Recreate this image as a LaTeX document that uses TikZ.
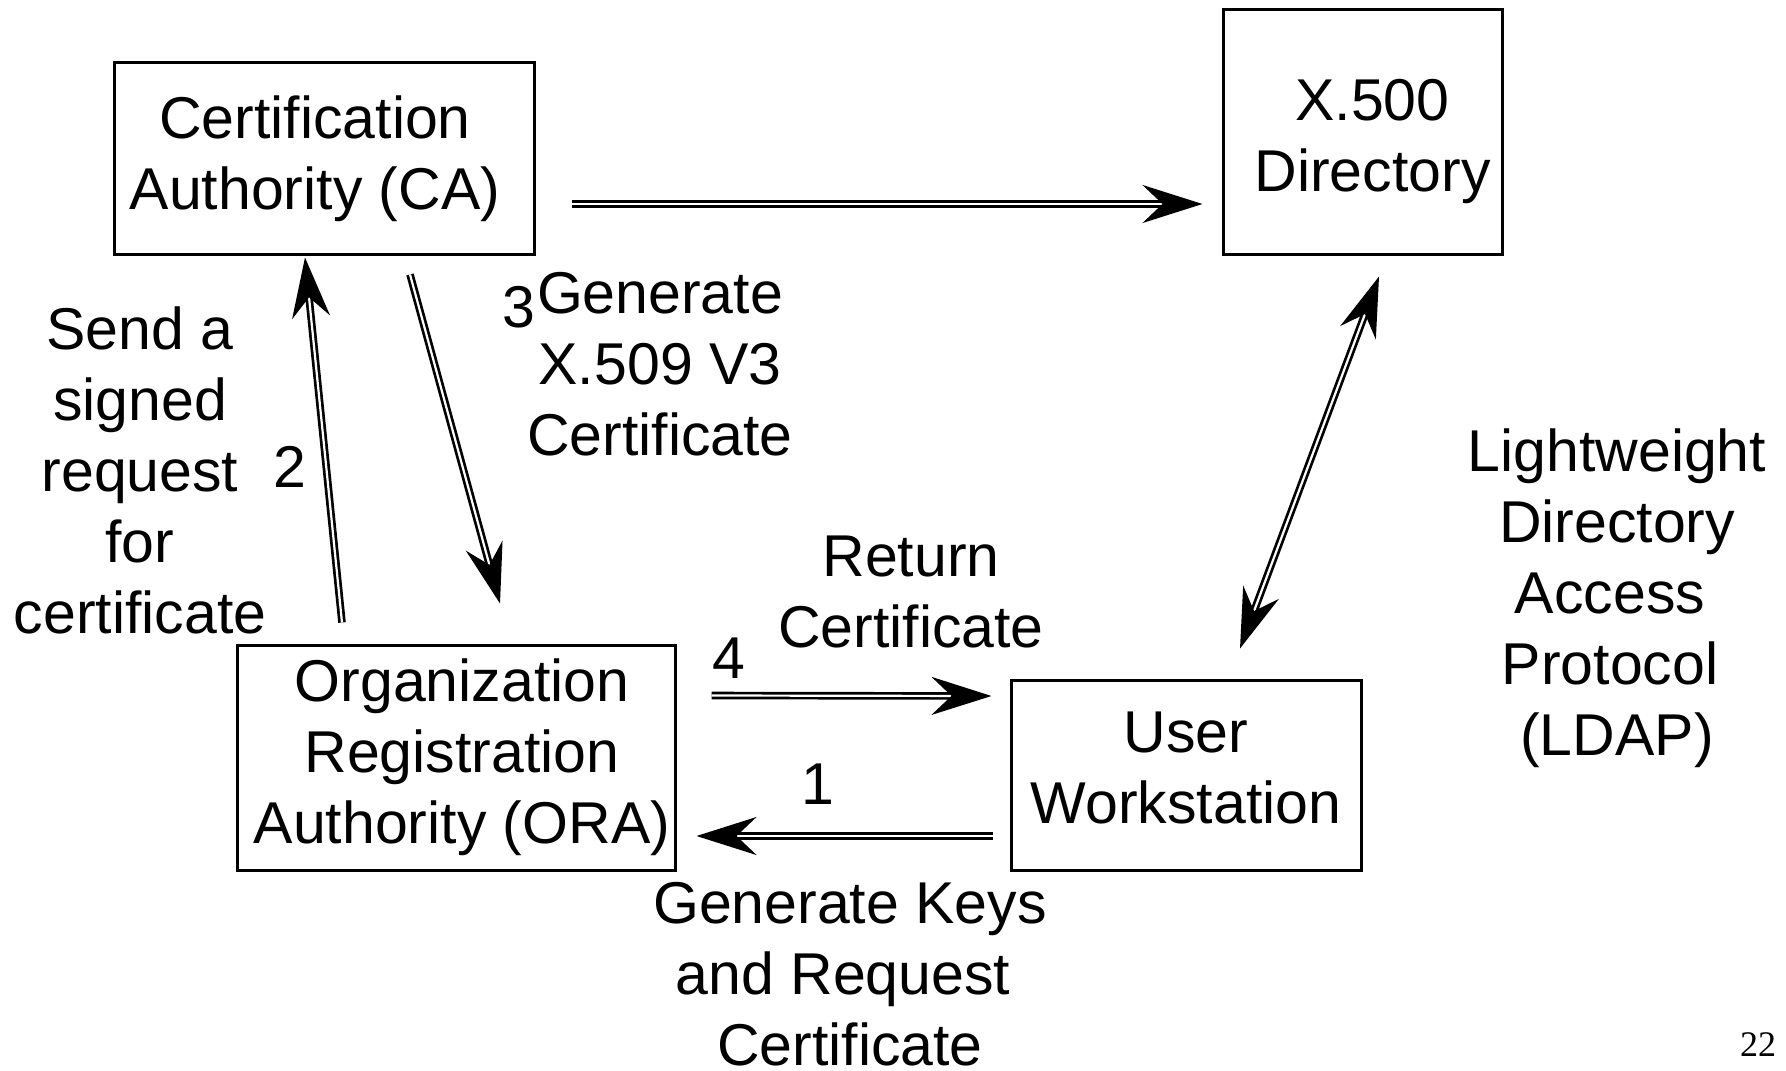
\documentclass[tikz,border=0pt]{standalone}
\usepackage{fontspec}
\setmainfont{Liberation Sans}
\newfontfamily\pagenumfont{Liberation Serif}
\usetikzlibrary{arrows.meta,calc}

\tikzset{
  box/.style={draw, line width=1.5pt, inner sep=0pt, align=center},
  lbl/.style={inner sep=0pt, align=center},
  txt/.style={font=\fontsize{29.5}{35.5}\selectfont},
  dbl/.style={double, line width=1.35pt, double distance=1.1pt,
    -{Stealth[length=30pt,width=19pt,inset=10pt]}},
  dblboth/.style={double, line width=1.35pt, double distance=1.1pt,
    {Stealth[length=30pt,width=19pt,inset=10pt]}-{Stealth[length=30pt,width=19pt,inset=10pt]}},
}
% invisible padding that survives the line breaks of centred text
\newcommand\padw[1]{\rule{#1}{0pt}}

\begin{document}
\begin{tikzpicture}[x=0.5pt, y=-0.5pt, txt]
\useasboundingbox (0,0) rectangle (1786,1070);

% boxes
\node[box, minimum width=210pt, minimum height=95.5pt] (CA) at (324,158.5)
  {Certification\padw{9pt}\\Authority (CA)\padw{9pt}};
\node[box, minimum width=139.5pt, minimum height=122pt] (X500) at (1362.5,132)
  {\rule{0pt}{30pt}\padw{10pt}X.500\\\padw{10pt}Directory};
\node[box, minimum width=219pt, minimum height=112.5pt] (ORA) at (456,757.5)
  {\padw{6pt}Organization\\\padw{6pt}Registration\\\padw{6pt}Authority (ORA)};
\node[box, minimum width=175pt, minimum height=95pt] (USER) at (1186,775)
  {User\\Workstation\rule[-7pt]{0pt}{0pt}};

% connectors
\draw[dbl] ($(CA.east)+(36,45.5)$) -- ($(X500.west)+(-19,72)$);
\draw[dbl] ($(ORA.north)+(-114,-21)$) -- ($(CA.south)+(-19,2)$);
\draw[dbl] ($(CA.south)+(86,19)$) -- ($(ORA.north)+(44,-40)$);
\draw[dbl] ($(ORA.east)+(35,-62)$) -- ($(USER.west)+(-18,-79)$);
\draw[dbl] ($(USER.west)+(-17,61)$) -- ($(ORA.east)+(20,78.5)$);
\draw[dblboth] ($(USER.north)+(54,-30)$) -- ($(X500.south)+(16.5,21)$);

% labels
\node[lbl] (lsend) at (140,470) {Send a\\signed\\request\\for\\certificate};
\node[lbl] (ltwo) at (290,467) {2};
\node[lbl] (lthree) at (519,307) {3};
\node[lbl] (lgen) at (660,364) {Generate\\X.509 V3\\Certificate};
\node[lbl] (lret) at (911,592) {Return\\Certificate};
\node[lbl] (lfour) at (729,658) {4};
\node[lbl] (lone) at (818,784) {1};
\node[lbl] (lkeys) at (850,974) {Generate Keys\\and Request\padw{7pt}\\Certificate};
\node[lbl] (lldap) at (1617,598)
  {Lightweight\\Directory\\Access\padw{7pt}\\Protocol\padw{7pt}\\(LDAP)};
\node[lbl, font=\pagenumfont\fontsize{18}{20}\selectfont] (pnum) at (1758,1045) {22};
\end{tikzpicture}
\end{document}
